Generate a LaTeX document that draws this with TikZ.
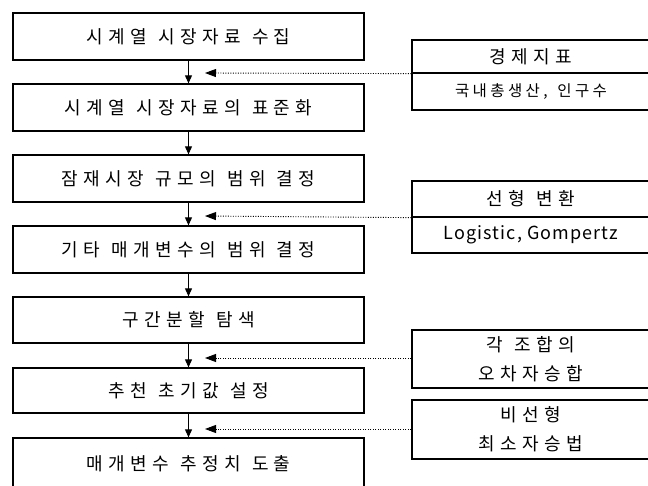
\documentclass[tikz,border=0pt]{standalone}
\usepackage{fontspec}
\newfontfamily\krmainfont[LetterSpace=30,WordSpace=1.2]{Noto Sans CJK KR}
\newfontfamily\krsubfont[LetterSpace=22,WordSpace=1.4]{Noto Sans CJK KR}
\newfontfamily\krlatinfont[LetterSpace=6]{Noto Sans CJK KR}
\newcommand{\lowtx}[1]{\raisebox{-2.5pt}{#1}}
\usetikzlibrary{arrows.meta}
\begin{document}
\begin{tikzpicture}[x=1pt,y=-1pt,
  lbox/.style={draw, line width=1.3pt, minimum width=351pt, inner sep=0pt,
    font=\krmainfont\fontsize{18}{22}\selectfont},
  rbox/.style={draw, line width=1.3pt, minimum width=238pt, inner sep=0pt, align=center,
    font=\krmainfont\fontsize{18}{29}\selectfont},
  rsub/.style={rbox, font=\krsubfont\fontsize{15.5}{20}\selectfont},
  flow/.style={line width=1pt, -{Triangle[length=8pt,width=7pt]}},
  feed/.style={line width=0.9pt, dash pattern=on 1pt off 1.5pt, -{Triangle[length=11pt,width=8pt]}}
]
\useasboundingbox (0,0) rectangle (648,486);
\clip (0,0) rectangle (648,486);
\fill[white] (0,0) rectangle (648,486);

% left flow
\node[lbox, minimum height=47pt] (b1) at (188.5,36.5) {\lowtx{시계열 시장자료 수집}};
\node[lbox, minimum height=47pt] (b2) at (188.5,107.5) {\lowtx{시계열 시장자료의 표준화}};
\node[lbox, minimum height=47pt] (b3) at (188.5,178.5) {\lowtx{잠재시장 규모의 범위 결정}};
\node[lbox, minimum height=47pt] (b4) at (188.5,249.5) {\lowtx{기타 매개변수의 범위 결정}};
\node[lbox, minimum height=46pt] (b5) at (188.5,320) {\lowtx{구간분할 탐색}};
\node[lbox, minimum height=45pt] (b6) at (188.5,390.5) {\lowtx{추천 초기값 설정}};
\node[lbox, minimum height=52pt] (b7) at (188.5,464) {\raisebox{-1pt}{매개변수 추정치 도출}};

\draw[flow] (b1) -- (b2);
\draw[flow] (b2) -- (b3);
\draw[flow] (b3) -- (b4);
\draw[flow] (b4) -- (b5);
\draw[flow] (b5) -- (b6);
\draw[flow] (b6) -- (b7);

% right boxes
\node[rbox, minimum height=33pt] (r1a) at (531,56.5) {경제지표};
\node[rsub, minimum height=37pt] (r1b) at (531,91.5) {국내총생산, 인구수};
\node[rbox, minimum height=36pt] (r2a) at (531,199) {선형 변환};
\node[rsub, minimum height=36pt, font=\krlatinfont\fontsize{18}{20}\selectfont] (r2b) at (531,235) {Logistic, Gompertz};
\node[rbox, minimum height=58pt] (r3) at (531,359) {\raisebox{-2pt}{각 조합의}\\\raisebox{-2pt}{오차자승합}};
\node[rbox, minimum height=59pt] (r4) at (531,429.5) {비선형\\최소자승법};

\coordinate (t1) at (205,73);
\coordinate (t2) at (205,216);
\coordinate (t3) at (205,358);
\coordinate (t4) at (205,429);

\draw[feed] (r1a.south west) -- (t1);
\draw[feed] (r2a.south west) -- (t2);
\draw[feed] (r3.west |- t3) -- (t3);
\draw[feed] (r4.west |- t4) -- (t4);
\end{tikzpicture}
\end{document}
